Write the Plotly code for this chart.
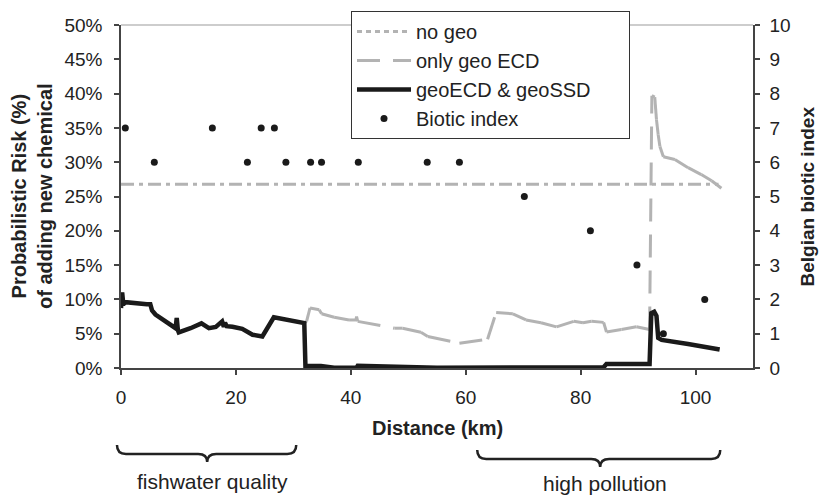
import plotly.graph_objects as go

# ---------------- data ----------------
# geoECD & geoSSD (black line): distance (km), risk (%)
GEO_SSD_X = [0, 0.2, 0.4, 0.8, 4.5, 5.1, 5.4, 6.0, 9.5, 9.7, 9.9, 10.05, 12.1, 14.0, 15.3,
             16.5, 17.6, 17.9, 18.1, 18.4, 19.4, 21.1, 22.9, 24.6, 26.6, 31.9, 32.1, 34.8,
             37.1, 41.0, 41.2, 53.4, 55.0, 84.0, 84.5, 92.0, 92.3, 92.8, 93.2, 93.5, 94.1,
             98.7, 104.2]
GEO_SSD_Y = [8.75, 11.0, 9.3, 9.6, 9.3, 9.3, 8.4, 7.8, 5.8, 7.3, 5.5, 5.2, 5.8, 6.5, 5.8,
             6.0, 6.8, 6.0, 6.6, 6.1, 6.0, 5.7, 4.85, 4.6, 7.4, 6.55, 0.3, 0.3,
             0.05, 0.05, 0.33, 0.2, 0.05, 0.1, 0.6, 0.6, 8.0, 8.2, 7.6, 4.4, 4.1,
             3.5, 2.7]

# only geo ECD (grey dashed line)
GEO_ECD_X = [0, 0.2, 0.4, 0.8, 4.5, 5.1, 5.4, 6.0, 9.5, 9.7, 9.9, 10.05, 12.1, 14.0, 15.3,
             16.5, 17.6, 17.9, 18.1, 18.4, 19.4, 21.1, 22.9, 24.6, 26.6, 31.9, 32.3, 32.9,
             34.5, 34.9, 37.1, 39.7, 40.9, 41.0, 41.2, 47.6, 49.0, 52.2, 53.4, 58.9, 63.8,
             65.3, 68.2, 70.5, 73.1, 75.8, 78.8, 80.4, 81.9, 84.0, 84.5, 87.1, 89.7, 92.0,
             92.4, 92.9, 93.2, 93.5, 93.8, 94.4, 96.4, 98.7, 101.0, 102.8, 104.5]
GEO_ECD_Y = [8.75, 11.0, 9.3, 9.6, 9.3, 9.3, 8.4, 7.8, 5.8, 7.3, 5.5, 5.2, 5.8, 6.5, 5.8,
             6.0, 6.8, 6.0, 6.6, 6.1, 6.0, 5.7, 4.85, 4.6, 7.4, 6.55, 6.8, 8.75,
             8.5, 7.9, 7.4, 7.0, 7.0, 7.5, 6.8, 5.8, 5.8, 5.2, 4.6, 3.6, 4.2,
             8.1, 7.9, 7.0, 6.6, 6.0, 6.8, 6.6, 6.8, 6.65, 5.25, 5.6, 6.0, 5.6,
             39.7, 39.5, 36.2, 34.0, 32.3, 30.8, 30.4, 29.2, 28.2, 27.3, 26.2]

# no geo (constant)
NO_GEO_X = [0, 104]
NO_GEO_Y = [26.8, 26.8]

# Belgian biotic index points
BIOTIC_X = [0.75, 5.8, 15.9, 22.0, 24.4, 26.7, 28.7, 33.0, 34.9, 41.3, 53.3, 58.9,
            70.2, 81.7, 89.8, 94.4, 101.6]
BIOTIC_Y = [7, 6, 7, 6, 7, 7, 6, 6, 6, 6, 6, 6, 5, 4, 3, 1, 2]

X_TICKS = [0, 20, 40, 60, 80, 100]
Y_TICKS = [0, 5, 10, 15, 20, 25, 30, 35, 40, 45, 50]
Y_TICK_TEXT = [f"{v}%" for v in Y_TICKS]
Y2_TICKS = list(range(0, 11))

# ---------------- layout constants ----------------
W, H = 821, 496
ML, MR, MT, MB = 121, 68, 25, 128
PW, PH = W - ML - MR, H - MT - MB
X_MAX = 110
FONT = "Liberation Sans, Arial, Helvetica, sans-serif"
GREY = "#b3b3b3"
BLACK = "#1a1a1a"
NBSP = "\u00a0"


def px_x(px):
    return (px - ML) / PW


def px_y(py):
    return (H - MB - py) / PH


def km(x):
    return x / X_MAX


def segs(xs, ys):
    ox, oy = [], []
    for i in range(len(xs) - 1):
        ox += [xs[i], xs[i + 1], None]
        oy += [ys[i], ys[i + 1], None]
    return ox, oy


fig = go.Figure()

# legend-only entry for "no geo"
fig.add_trace(go.Scatter(x=[None], y=[None], mode="lines", name="no geo",
                         line=dict(color=GREY, width=3, dash="5px,4px")))
fig.add_trace(go.Scatter(x=NO_GEO_X, y=NO_GEO_Y, mode="lines", name="no geo",
                         showlegend=False,
                         line=dict(color=GREY, width=3, dash="13px,5px,4px,5px")))
ex, ey = segs(GEO_ECD_X, GEO_ECD_Y)
fig.add_trace(go.Scatter(x=ex, y=ey, mode="lines", name="only geo ECD",
                         connectgaps=False,
                         line=dict(color=GREY, width=3, dash="23px,13px")))
fig.add_trace(go.Scatter(x=GEO_SSD_X, y=GEO_SSD_Y, mode="lines",
                         name="geoECD & geoSSD" + NBSP * 6,
                         line=dict(color=BLACK, width=4.5)))
fig.add_trace(go.Scatter(x=BIOTIC_X, y=BIOTIC_Y, mode="markers", name="Biotic index",
                         yaxis="y2", marker=dict(color=BLACK, size=7)))

axis_common = dict(showgrid=False, zeroline=False, showline=True, linecolor="#444",
                   linewidth=1.5, ticks="outside", ticklen=5, tickwidth=1.5,
                   tickcolor="#444", tickfont=dict(family=FONT, size=19, color="#222"))

fig.update_layout(
    width=W, height=H,
    margin=dict(l=ML, r=MR, t=MT, b=MB, pad=0, autoexpand=False),
    paper_bgcolor="white", plot_bgcolor="white",
    font=dict(family=FONT, color="#222"),
    xaxis=dict(range=[0, X_MAX], tickvals=X_TICKS, ticklabelstandoff=6, **axis_common),
    yaxis=dict(range=[0, 50], tickvals=Y_TICKS, ticktext=Y_TICK_TEXT, ticklabelstandoff=8,
               **axis_common),
    yaxis2=dict(range=[0, 10], tickvals=Y2_TICKS, overlaying="y", side="right",
                ticklabelstandoff=6, **axis_common),
    showlegend=True,
    legend=dict(x=px_x(351), y=px_y(11), xanchor="left", yanchor="top",
                bgcolor="white", bordercolor="#333", borderwidth=1,
                font=dict(family=FONT, size=20, color="#222"), itemwidth=54,
                tracegroupgap=0, traceorder="normal"),
)

# top border of plot area
fig.add_shape(type="line", xref="paper", yref="paper", x0=0, x1=1, y0=1, y1=1,
              line=dict(color="#bdbdbd", width=1.5), layer="below")

# axis titles
fig.add_annotation(text="<b>Probabilistic Risk (%)<br>of adding new chemical</b>",
                   xref="paper", yref="paper", x=px_x(31.5), y=0.5, textangle=-90,
                   showarrow=False, font=dict(family=FONT, size=20, color="#222"),
                   xanchor="center", yanchor="middle")
fig.add_annotation(text="<b>Belgian biotic index</b>", xref="paper", yref="paper",
                   x=px_x(807), y=0.5, textangle=-90, showarrow=False,
                   font=dict(family=FONT, size=19, color="#222"),
                   xanchor="center", yanchor="middle")
fig.add_annotation(text="<b>Distance (km)</b>", xref="paper", yref="paper",
                   x=0.5, y=px_y(428), showarrow=False,
                   font=dict(family=FONT, size=20, color="#222"),
                   xanchor="center", yanchor="middle")


def brace(k0, k1, kt, yt, ym, yb):
    x0, x1, xm = km(k0), km(k1), km(kt)
    r = 9 / PW
    Yt, Ym, Yb = px_y(yt), px_y(ym), px_y(yb)
    p = (f"M{x0},{Yt} Q{x0},{Ym} {x0 + r},{Ym} L{xm - r},{Ym} "
         f"Q{xm},{Ym} {xm},{Yb} Q{xm},{Ym} {xm + r},{Ym} "
         f"L{x1 - r},{Ym} Q{x1},{Ym} {x1},{Yt}")
    fig.add_shape(type="path", path=p, xref="paper", yref="paper",
                  line=dict(color="#222", width=2.5))


brace(-0.7, 30.5, 15.0, 445, 454, 462)
brace(62.0, 104.3, 83.4, 450, 459, 467)

fig.add_annotation(text="fishwater quality", xref="paper", yref="paper",
                   x=km(15.9), y=px_y(481), showarrow=False,
                   font=dict(family=FONT, size=21, color="#222"),
                   xanchor="center", yanchor="middle")
fig.add_annotation(text="high pollution", xref="paper", yref="paper",
                   x=km(84.3), y=px_y(484), showarrow=False,
                   font=dict(family=FONT, size=21, color="#222"),
                   xanchor="center", yanchor="middle")

# remove the browser's default 8px page margin so the figure sits at (0, 0)
fig.write_html("out.html",
               config={"displayModeBar": False},
               post_script="document.body.style.margin='0';document.body.style.padding='0';")
